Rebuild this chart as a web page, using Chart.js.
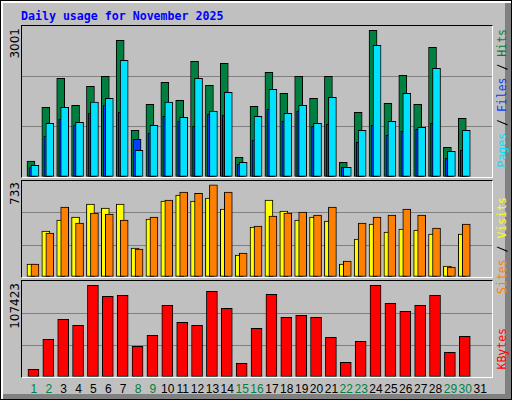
<!DOCTYPE html>
<html>
<head>
<meta charset="utf-8">
<script src="https://cdn.jsdelivr.net/npm/chart.js@4"></script>
<style>
  body { margin:0; background:#fff; }
  #frame { position:absolute; left:0; top:0; width:510px; height:398px; background:#C0C0C0;
           border:1px solid #000; box-shadow: inset 2px 2px 0 #fff, inset -6px -5px 0 #808080; }
  .title { position:absolute; left:20px; top:8px; font:bold 11.6px "DejaVu Sans Mono", monospace; color:#0000FF; }
  .panel { position:absolute; left:20px; width:470px; border-top:1px solid #000; border-left:1px solid #000;
           border-right:1px solid #fff; border-bottom:1px solid #fff; }
  .panel canvas { position:absolute; left:0; top:0; }
  .vl { position:absolute; writing-mode:vertical-rl; transform:rotate(180deg); white-space:nowrap; }
  .lmax { left:7px; font:12px "DejaVu Sans", sans-serif; color:#000; }
  .rlab { left:494px; font:11.5px "DejaVu Sans Mono", monospace; }
  .day { position:absolute; top:381px; font:12px "Liberation Sans", sans-serif; transform:translateX(-50%); }
</style>
</head>
<body>
<div id="frame">
  <div class="title">Daily usage for November 2025</div>
  <div class="panel" style="top:24px;height:151px"><canvas id="c1"></canvas></div>
  <div class="panel" style="top:179px;height:96px"><canvas id="c2"></canvas></div>
  <div class="panel" style="top:279px;height:96px"><canvas id="c3"></canvas></div>
  <div class="vl lmax" style="top:27px">3001</div>
  <div class="vl lmax" style="top:181px">733</div>
  <div class="vl lmax" style="top:282px">107423</div>
  <div class="vl rlab" style="top:28px"><span style="color:#00E0FF">Pages</span><span style="color:#000"> / </span><span style="color:#0040FF">Files</span><span style="color:#000"> / </span><span style="color:#008040">Hits</span></div>
  <div class="vl rlab" style="top:196px"><span style="color:#FF8000">Sites</span><span style="color:#000"> / </span><span style="color:#FFFF00">Visits</span></div>
  <div class="vl rlab" style="top:327px;color:#FF0000">KBytes</div>
  <div id="days"></div>
</div>
<script>
const days = Array.from({length:31}, (_, i) => i + 1);
const weekend = [1,2,8,9,15,16,22,23,29,30];

const hits  = [318,1385,1961,1425,1802,2001,2716,928,1445,1882,1524,2299,1822,2259,391,1405,2080,1663,2001,1564,2001,292,1286,2915,1464,2021,1445,2577,590,1166,0];
const files = [234,1067,1385,1087,1490,1564,2319,530,1027,1490,1186,1961,1311,1683,292,1206,1743,1266,1425,1067,1584,193,928,2617,1107,1663,988,2160,510,928,0];
const pages = [185,815,1152,1033,1272,1431,1292,749,874,1206,1113,1007,1246,1232,252,735,1345,1113,1311,1007,1047,193,689,1027,828,908,948,1067,371,530,0];
const sites  = [99,351,435,458,557,526,557,221,443,580,626,580,603,519,168,382,588,504,435,458,427,99,290,404,343,366,359,328,84,328,0];
const visits = [99,336,534,412,488,481,435,214,458,588,649,638,703,649,183,389,466,488,496,473,534,122,412,458,473,519,473,374,76,404,0];
const kbytes = [8616,42190,64570,57850,102600,90300,91400,34350,46660,80230,61200,57850,95900,76870,15330,54500,92540,66800,69040,66800,44420,16450,39950,102600,82470,73520,80230,91400,27640,45540,0];

const maxTop = 3001, maxMid = 733, maxBot = 107423;
const PX = 14.9; // pixels per day

function series(vals, shiftPx) {
  return vals.map((v, i) => ({ x: days[i] + shiftPx / PX, y: v }));
}
function ds(vals, shiftPx, color, width) {
  return { data: series(vals, shiftPx), backgroundColor: color, borderColor: '#000',
           borderWidth: 1, borderSkipped: false, barThickness: width, grouped: false };
}
function makeChart(id, w, h, max, sets) {
  const cv = document.getElementById(id);
  cv.width = w; cv.height = h;
  cv.style.width = w + 'px'; cv.style.height = h + 'px';
  return new Chart(cv, {
    type: 'bar',
    data: { datasets: sets },
    options: {
      responsive: false, animation: false, devicePixelRatio: 1,
      layout: { padding: 0 },
      plugins: { legend: { display: false }, tooltip: { enabled: false } },
      scales: {
        x: { type: 'linear', min: 0.13, max: 31.73, offset: false, display: false },
        y: { min: 0, max: max, ticks: { display: false, stepSize: max / 3 },
             border: { display: false },
             grid: { drawTicks: false, tickLength: 0, lineWidth: 1,
                     color: c => (c.index === 0 || c.index === 3) ? 'rgba(0,0,0,0)' : '#808080' } }
      }
    }
  });
}

makeChart('c1', 470, 151, maxTop, [
  ds(files, 0, '#00E0FF', 8),
  ds(pages, -2, '#0040FF', 8),
  ds(hits, -4, '#008040', 8)
]);
makeChart('c2', 470, 96, maxMid, [
  ds(visits, 0, '#FF8000', 8),
  ds(sites, -4, '#FFFF00', 8)
]);
const bot = makeChart('c3', 470, 96, maxBot, [
  ds(kbytes, -1.5, '#FF0000', 11)
]);

const box = document.getElementById('days');
days.forEach(d => {
  const s = document.createElement('span');
  s.className = 'day';
  s.textContent = d;
  s.style.left = (20 + bot.scales.x.getPixelForValue(d)) + 'px';
  s.style.color = weekend.includes(d) ? '#008040' : '#000';
  box.appendChild(s);
});
</script>
</body>
</html>
